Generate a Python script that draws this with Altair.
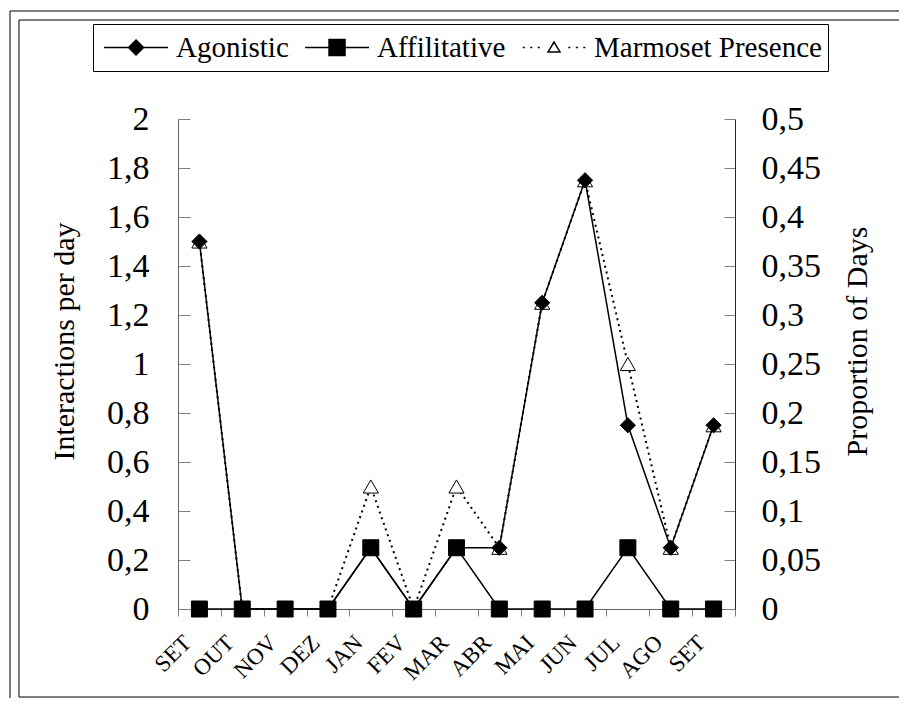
import altair as alt
import pandas as pd

months = ["SET", "OUT", "NOV", "DEZ", "JAN", "FEV", "MAR", "ABR", "MAI", "JUN", "JUL", "AGO", "SET"]
agonistic = [1.5, 0, 0, 0, 0.25, 0, 0.25, 0.25, 1.25, 1.75, 0.75, 0.25, 0.75]
affilitative = [0, 0, 0, 0, 0.25, 0, 0.25, 0, 0, 0, 0.25, 0, 0]
marmoset = [0.375, 0, 0, 0, 0.125, 0, 0.125, 0.0625, 0.3125, 0.4375, 0.25, 0.0625, 0.1875]
series_names = ["Agonistic", "Affilitative", "Marmoset Presence"]
left_ticks = [0, 0.2, 0.4, 0.6, 0.8, 1.0, 1.2, 1.4, 1.6, 1.8, 2.0]
right_ticks = [0, 0.05, 0.1, 0.15, 0.2, 0.25, 0.3, 0.35, 0.4, 0.45, 0.5]

rows = []
for name, vals in zip(series_names, [agonistic, affilitative, marmoset]):
    for i, (m, v) in enumerate(zip(months, vals)):
        rows.append({"idx": i, "month": m, "series": name, "value": v})
df = pd.DataFrame(rows)
ag_df = df[df.series == "Agonistic"]
af_df = df[df.series == "Affilitative"]
left_df = df[df.series != "Marmoset Presence"]
right_df = df[df.series == "Marmoset Presence"]

FONT = "Liberation Serif"
label_expr = "[" + ",".join("'%s'" % m for m in months) + "][datum.value]"

x_enc = alt.X(
    "idx:O",
    scale=alt.Scale(type="band", paddingInner=0, paddingOuter=0),
    bandPosition=0.5,
    axis=alt.Axis(
        title=None, labelExpr=label_expr, labelAngle=-45, tickBand="extent",
        labelFontSize=23, labelPadding=15, labelOffset=-20, tickSize=7,
        tickColor="#808080", domainColor="#666666",
    ),
)

# legend symbols: line + marker (unit square -1..1, slot 68px)
p_ag = "M-0.88,0H1M0.06,-0.22L0.28,0L0.06,0.22L-0.16,0Z"
p_af = "M-0.88,0H1M-0.175,-0.235H0.295V0.235H-0.175Z"
p_mp = ("M-0.86,0H-0.8M-0.64,0H-0.58M-0.42,0H-0.36"
        "M0.48,0H0.54M0.7,0H0.76M0.92,0H0.98"
        "M0.06,-0.16L0.235,0.13L-0.115,0.13Z")
legend_shape_scale = alt.Scale(domain=series_names, range=[p_ag, p_af, p_mp])
fill_scale = alt.Scale(domain=series_names, range=["black", "black", "white"])
stroke_scale = alt.Scale(domain=series_names, range=["black", "black", "black"])

legend = alt.Legend(
    title=None, orient="none", legendX=-85, legendY=-95, direction="horizontal",
    columns=3, strokeColor="black", padding=6, symbolSize=4624, clipHeight=35,
    symbolStrokeWidth=1.5, labelFont=FONT, labelLimit=400,
    labelFontSize=29, labelColor="black", labelOffset=7, columnPadding=11,
)

y_left = alt.Y(
    "value:Q",
    scale=alt.Scale(domain=[0, 2], nice=False),
    axis=alt.Axis(
        orient="left", values=left_ticks, title="Interactions per day",
        labelExpr="replace(format(datum.value, '.1~f'), '.', ',')",
        tickSize={"expr": "-12"}, labelPadding=41, titlePadding=27, titleY=222,
        tickColor="#808080", domainColor="#666666",
    ),
)
y_right = alt.Y(
    "value:Q",
    scale=alt.Scale(domain=[0, 0.5], nice=False),
    axis=alt.Axis(
        orient="right", values=right_ticks, title="Proportion of Days",
        labelExpr="replace(format(datum.value, '.2~f'), '.', ',')",
        tickSize={"expr": "-11"}, labelPadding=37, titlePadding=52, titleAngle=270,
        titleY=222, tickColor="#808080", domainColor="#222222",
    ),
)

left_lines = alt.Chart(left_df).mark_line(color="black", strokeWidth=1.5).encode(
    x=x_enc, y=y_left, detail="series:N", order="idx:O"
)
ag_points = alt.Chart(ag_df).mark_point(
    shape="diamond", size=230, fill="black", stroke="black", strokeWidth=1, opacity=1
).encode(x=x_enc, y=y_left)
af_points = alt.Chart(af_df).mark_point(
    shape="square", size=256, fill="black", stroke="black", strokeWidth=1, opacity=1
).encode(x=x_enc, y=y_left)
left_layer = alt.layer(left_lines, ag_points, af_points)

right_line = alt.Chart(right_df).mark_line(color="black", strokeWidth=2, strokeDash=[2, 4]).encode(
    x=x_enc, y=y_right, order="idx:O"
)
mp_points = alt.Chart(right_df).mark_point(
    shape="triangle-up", size=230, fill="white", stroke="black", strokeWidth=1, opacity=1
).encode(x=x_enc, y=y_right)
right_layer = alt.layer(right_line, mp_points)

legend_layer = alt.Chart(df).transform_filter("false").mark_point(
    strokeWidth=1.5, opacity=1
).encode(
    shape=alt.Shape("series:N", scale=legend_shape_scale, legend=legend),
    fill=alt.Fill("series:N", scale=fill_scale, legend=legend),
    stroke=alt.Stroke("series:N", scale=stroke_scale, legend=legend),
)

frame_data = alt.Data(values=[{}])
outer = alt.Chart(frame_data).mark_rect(fill=None, stroke="black", strokeWidth=1).encode(
    x=alt.value(-168), x2=alt.value(780), y=alt.value(-108), y2=alt.value(640)
)
inner = alt.Chart(frame_data).mark_rect(fill=None, stroke="black", strokeWidth=1).encode(
    x=alt.value(-159), x2=alt.value(770), y=alt.value(-99), y2=alt.value(578)
)

chart = alt.layer(right_layer, left_layer, legend_layer, outer, inner).resolve_scale(
    y="independent"
).properties(
    width=557, height=490,
    autosize=alt.AutoSizeParams(type="none"),
    padding={"left": 170, "top": 111, "right": 164, "bottom": 89},
).configure(
    font=FONT,
).configure_axis(
    labelFont=FONT, titleFont=FONT, labelColor="black", titleColor="black",
    labelFontSize=34, titleFontSize=30, titleFontWeight="normal", grid=False,
).configure_view(stroke=None)

chart.save("out.html", embed_options={"renderer": "svg", "actions": False})
